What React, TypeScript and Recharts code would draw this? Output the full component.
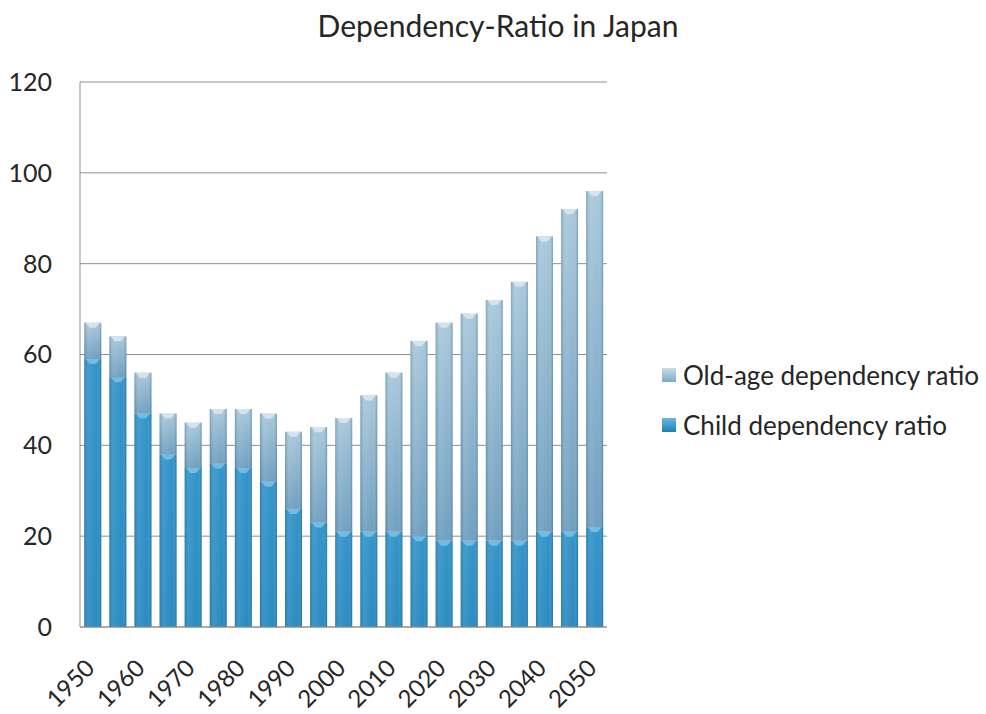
import React from 'react';
import { BarChart, Bar, XAxis, YAxis, CartesianGrid } from 'recharts';

// Dependency ratios for Japan, 1950–2050 in five-year steps
const years = ['1950', '1955', '1960', '1965', '1970', '1975', '1980', '1985', '1990', '1995', '2000',
  '2005', '2010', '2015', '2020', '2025', '2030', '2035', '2040', '2045', '2050'];
const childRatio = [59, 55, 47, 38, 35, 36, 35, 32, 26, 23, 21, 21, 21, 20, 19, 19, 19, 19, 21, 21, 22];
const oldAgeRatio = [8, 9, 9, 9, 10, 12, 13, 15, 17, 21, 25, 30, 35, 43, 48, 50, 53, 57, 65, 71, 74];
const yTicks = [0, 20, 40, 60, 80, 100, 120];

const seriesNames = { child: 'Child dependency ratio', old: 'Old-age dependency ratio' };

const data = years.map((year, i) => ({ year, child: childRatio[i], old: oldAgeRatio[i] }));

const FONT = 'Lato, "Open Sans", sans-serif';
const TEXT = '#262626';

// A bar segment with a soft vertical fill, darker edges and a small bevel on top
const makeShape = (fillId: string, bevel: string) => (props: any) => {
  const { x, y, width, height } = props;
  if (!height || height <= 0) return <g />;
  const cx = x + width / 2;
  return (
    <g>
      <rect x={x} y={y} width={width} height={height} fill={`url(#${fillId})`} />
      <rect x={x} y={y} width={width} height={height} fill="url(#edgeShade)" />
      <polygon
        points={`${x + 1.5},${y} ${x + width - 1.5},${y} ${cx + 3},${y + 5} ${cx - 3},${y + 5}`}
        fill={bevel}
        opacity={0.85}
      />
    </g>
  );
};

const ChildShape = makeShape('childFill', '#7cc3e8');
const OldShape = makeShape('oldFill', '#dbe9f2');

const YearTick = (props: any) => {
  const { x, y, payload } = props;
  return (
    <text
      x={x}
      y={y}
      transform={`rotate(-45, ${x}, ${y})`}
      textAnchor="end"
      dx={-22}
      dy={27}
      fontSize={24}
      fontFamily={FONT}
      fill={TEXT}
    >
      {payload.value}
    </text>
  );
};

const legendItems = [
  { name: seriesNames.old, top: '#c9dce8', bottom: '#7fa9c6' },
  { name: seriesNames.child, top: '#6ab6e0', bottom: '#1f7fb6' },
];

const ChartLegend = () => (
  <div
    style={{
      position: 'absolute',
      left: 662,
      top: 350,
      fontFamily: FONT,
      fontSize: 26,
      color: TEXT,
    }}
  >
    {legendItems.map((it) => (
      <div key={it.name} style={{ display: 'flex', alignItems: 'center', height: 50, whiteSpace: 'nowrap' }}>
        <div
          style={{
            width: 14,
            height: 14,
            marginRight: 7,
            background: `linear-gradient(${it.top}, ${it.bottom})`,
          }}
        />
        <span>{it.name}</span>
      </div>
    ))}
  </div>
);

export default function App() {
  return (
    <div style={{ position: 'absolute', left: 0, top: 0, width: 986, height: 714, background: '#fff' }}>
      <div
        style={{
          position: 'absolute',
          left: 0,
          top: 7,
          width: 996,
          textAlign: 'center',
          fontFamily: FONT,
          fontSize: 30,
          color: TEXT,
        }}
      >
        Dependency-Ratio in Japan
      </div>
      <BarChart
        width={986}
        height={714}
        data={data}
        margin={{ top: 82, right: 379, bottom: 0, left: 0 }}
        barCategoryGap="17%"
      >
        <defs>
          <linearGradient id="childFill" x1="0" y1="0" x2="0" y2="1">
            <stop offset="0%" stopColor="#3394c9" />
            <stop offset="100%" stopColor="#2a8bc1" />
          </linearGradient>
          <linearGradient id="oldFill" x1="0" y1="0" x2="0" y2="1">
            <stop offset="0%" stopColor="#a9c8db" />
            <stop offset="100%" stopColor="#6f9fbf" />
          </linearGradient>
          <linearGradient id="edgeShade" x1="0" y1="0" x2="1" y2="0">
            <stop offset="0%" stopColor="#0a3a5a" stopOpacity={0.25} />
            <stop offset="25%" stopColor="#ffffff" stopOpacity={0.08} />
            <stop offset="75%" stopColor="#ffffff" stopOpacity={0.0} />
            <stop offset="100%" stopColor="#0a3a5a" stopOpacity={0.3} />
          </linearGradient>
        </defs>
        <CartesianGrid vertical={false} stroke="#8f8f8f" strokeWidth={1} />
        <XAxis
          dataKey="year"
          interval={1}
          height={87}
          tick={<YearTick />}
          tickLine={false}
          axisLine={{ stroke: '#8f8f8f' }}
        />
        <YAxis
          width={80}
          domain={[0, 120]}
          ticks={yTicks}
          tick={{ fontSize: 25, fontFamily: FONT, fill: TEXT }}
          tickLine={false}
          tickSize={6}
          tickMargin={22}
          axisLine={{ stroke: '#8f8f8f' }}
        />
        <Bar dataKey="child" name={seriesNames.child} stackId="a" shape={<ChildShape />} isAnimationActive={false} />
        <Bar dataKey="old" name={seriesNames.old} stackId="a" shape={<OldShape />} isAnimationActive={false} />
      </BarChart>
      <ChartLegend />
    </div>
  );
}
